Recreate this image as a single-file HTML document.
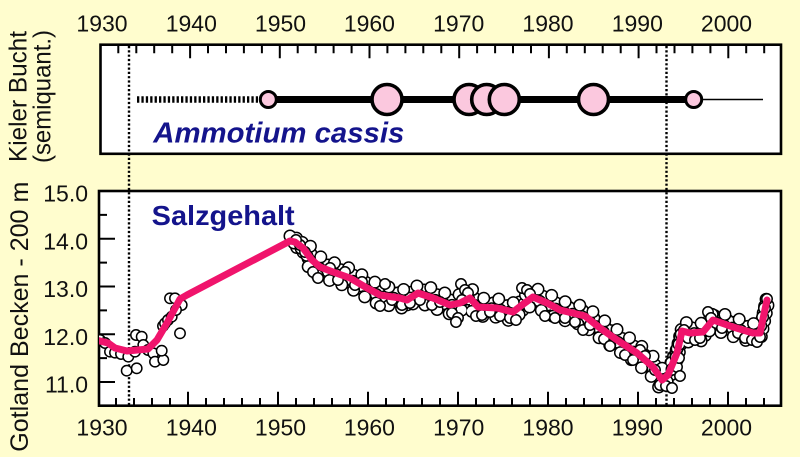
<!DOCTYPE html>
<html><head><meta charset="utf-8"><style>
html,body{margin:0;padding:0;background:#fffdce;}
svg{display:block;}
</style></head><body>
<svg width="800" height="457" viewBox="0 0 800 457" xmlns="http://www.w3.org/2000/svg" font-family="Liberation Sans, Arial, sans-serif">
<defs>
<clipPath id="cp"><rect x="99" y="191" width="682" height="214.7"/></clipPath>
<path id="d" fill="none" d="M290,241 L295,242 303,248 312,260 320,267 333,272 350,278 367,288 380,295 400,298 407,300 418,293 433,298 450,305 460,303 470,298 478,307 497,308 513,312 522,305 533,297 547,303 560,310 585,316 600,328 620,342 637,353 653,367 662,380 668,375 677,353 682,331 690,333 703,332 713,320 733,327 753,333 760,333 767,300"/>
<path id="d2" fill="none" d="M303,248 L312,260 320,267 333,272 350,278 367,288 380,295 400,298 407,300 418,293 433,298 450,305 460,303 470,298 478,307 497,308 513,312 522,305 533,297 547,303 560,310 585,316 600,328 620,342 637,353 653,367 662,380 668,375 677,353 682,331 690,333 703,332 713,320 733,327 753,333 760,333"/>
</defs>
<rect x="0" y="0" width="800" height="457" fill="#fffdce"/>

<rect x="100.5" y="44.7" width="680.5" height="109.1" fill="#fff" stroke="#000" stroke-width="2.6"/>
<rect x="99" y="191" width="682" height="214.7" fill="#fff" stroke="#000" stroke-width="2.6"/>

<g stroke="#000" stroke-width="2" fill="none">
<path d="M118.3,44.7V53.3 M136.3,44.7V53.3 M154.2,44.7V53.3 M172.2,44.7V53.3 M190.1,44.7V58.3 M208,44.7V53.3 M226,44.7V53.3 M243.9,44.7V53.3 M261.9,44.7V53.3 M279.8,44.7V58.3 M297.7,44.7V53.3 M315.7,44.7V53.3 M333.6,44.7V53.3 M351.6,44.7V53.3 M369.5,44.7V58.3 M387.4,44.7V53.3 M405.4,44.7V53.3 M423.3,44.7V53.3 M441.3,44.7V53.3 M459.2,44.7V58.3 M477.1,44.7V53.3 M495.1,44.7V53.3 M513,44.7V53.3 M531,44.7V53.3 M548.9,44.7V58.3 M566.8,44.7V53.3 M584.8,44.7V53.3 M602.7,44.7V53.3 M620.7,44.7V53.3 M638.6,44.7V58.3 M656.5,44.7V53.3 M674.5,44.7V53.3 M692.4,44.7V53.3 M710.4,44.7V53.3 M728.3,44.7V58.3 M746.2,44.7V53.3 M764.2,44.7V53.3"/>
<path d="M116,405.7V398 M134,405.7V398 M152,405.7V398 M170,405.7V398 M188,405.7V391.7 M206,405.7V398 M224,405.7V398 M242,405.7V398 M260,405.7V398 M278,405.7V391.7 M296,405.7V398 M314,405.7V398 M332,405.7V398 M350,405.7V398 M368,405.7V391.7 M386,405.7V398 M404,405.7V398 M422,405.7V398 M440,405.7V398 M458,405.7V391.7 M476,405.7V398 M494,405.7V398 M512,405.7V398 M530,405.7V398 M548,405.7V391.7 M566,405.7V398 M584,405.7V398 M602,405.7V398 M620,405.7V398 M638,405.7V391.7 M656,405.7V398 M674,405.7V398 M692,405.7V398 M710,405.7V398 M728,405.7V391.7 M746,405.7V398 M764,405.7V398"/>
<path d="M99,191H115 M99,238.75H115 M99,286.5H115 M99,334.25H115 M99,382H115 M99,214.9H107 M99,262.6H107 M99,310.4H107 M99,358.1H107"/>
</g>

<g stroke="#000" stroke-width="2.4" stroke-dasharray="2.2 2.1">
<line x1="129" y1="46" x2="129" y2="405"/>
<line x1="666.5" y1="46" x2="666.5" y2="405"/>
</g>

<line x1="137" y1="99.5" x2="258" y2="99.5" stroke="#000" stroke-width="6.5" stroke-dasharray="2.3 2.1"/>
<line x1="268" y1="99.5" x2="694" y2="99.5" stroke="#000" stroke-width="7"/>
<line x1="694" y1="99.5" x2="763" y2="99.5" stroke="#000" stroke-width="1.5"/>
<g fill="#fbc8de" stroke="#000">
<circle cx="268.3" cy="99.5" r="8" stroke-width="3"/>
<circle cx="387" cy="99.5" r="15" stroke-width="3.6"/>
<circle cx="469" cy="99.5" r="15" stroke-width="3.6"/>
<circle cx="486.7" cy="99.5" r="15" stroke-width="3.6"/>
<circle cx="504.3" cy="99.5" r="15" stroke-width="3.6"/>
<circle cx="593.5" cy="99.5" r="15" stroke-width="3.6"/>
<circle cx="693.7" cy="99.5" r="8" stroke-width="3"/>
</g>
<text x="153.3" y="142.7" font-size="29" font-weight="bold" font-style="italic" fill="#14148c" textLength="251" lengthAdjust="spacingAndGlyphs">Ammotium cassis</text>

<g clip-path="url(#cp)">
<g fill="none" stroke-linecap="round" stroke-linejoin="round">
<use href="#d" transform="translate(0,-5)" stroke="#000" stroke-width="13" stroke-dasharray="0 7"/>
<use href="#d" transform="translate(0,-5)" stroke="#fff" stroke-width="10" stroke-dasharray="0 7"/>
<use href="#d" transform="translate(1,5)" stroke="#000" stroke-width="13" stroke-dasharray="0 8" stroke-dashoffset="2"/>
<use href="#d" transform="translate(1,5)" stroke="#fff" stroke-width="10" stroke-dasharray="0 8" stroke-dashoffset="2"/>
<use href="#d" transform="translate(-1,1)" stroke="#000" stroke-width="13" stroke-dasharray="0 9" stroke-dashoffset="4"/>
<use href="#d" transform="translate(-1,1)" stroke="#fff" stroke-width="10" stroke-dasharray="0 9" stroke-dashoffset="4"/>
<use href="#d2" transform="translate(2,-9)" stroke="#000" stroke-width="13" stroke-dasharray="0 15" stroke-dashoffset="6"/>
<use href="#d2" transform="translate(2,-9)" stroke="#fff" stroke-width="10" stroke-dasharray="0 15" stroke-dashoffset="6"/>
<use href="#d2" transform="translate(-2,9)" stroke="#000" stroke-width="13" stroke-dasharray="0 13" stroke-dashoffset="1"/>
<use href="#d2" transform="translate(-2,9)" stroke="#fff" stroke-width="10" stroke-dasharray="0 13" stroke-dashoffset="1"/>
</g>
<g fill="#fff" stroke="#000" stroke-width="1.5">
<circle cx="100" cy="340" r="5.2"/><circle cx="105" cy="343" r="5.2"/><circle cx="110" cy="351.7" r="5.2"/><circle cx="115" cy="352.7" r="5.2"/>
<circle cx="121" cy="354" r="5.2"/><circle cx="126.7" cy="370.7" r="5.2"/><circle cx="128.3" cy="356.7" r="5.2"/><circle cx="135" cy="351.7" r="5.2"/>
<circle cx="136" cy="335" r="5.2"/><circle cx="136.7" cy="368.3" r="5.2"/><circle cx="141.7" cy="336.7" r="5.2"/><circle cx="143.3" cy="345" r="5.2"/>
<circle cx="148" cy="350" r="5.2"/><circle cx="153.3" cy="353.3" r="5.2"/><circle cx="155" cy="361.7" r="5.2"/><circle cx="163.3" cy="360" r="5.2"/>
<circle cx="161.7" cy="350.7" r="5.2"/><circle cx="163" cy="326" r="5.2"/><circle cx="165" cy="323.3" r="5.2"/><circle cx="168" cy="320" r="5.2"/>
<circle cx="171.7" cy="316.7" r="5.2"/><circle cx="170" cy="298.3" r="5.2"/><circle cx="175" cy="298.3" r="5.2"/><circle cx="181.7" cy="305" r="5.2"/>
<circle cx="180" cy="333.3" r="5.2"/><circle cx="176" cy="310" r="5.2"/>
<circle cx="300" cy="245" r="5.2"/><circle cx="296" cy="240" r="5.2"/><circle cx="305" cy="252" r="5.2"/><circle cx="313" cy="272" r="5.2"/>
<circle cx="318" cy="278" r="5.2"/><circle cx="330" cy="268" r="5.2"/><circle cx="338" cy="280" r="5.2"/><circle cx="345" cy="272" r="5.2"/>
<circle cx="355" cy="285" r="5.2"/><circle cx="362" cy="282" r="5.2"/><circle cx="385" cy="284" r="5.2"/><circle cx="380" cy="306" r="5.2"/>
<circle cx="392" cy="300" r="5.2"/><circle cx="402" cy="305" r="5.2"/><circle cx="410" cy="303" r="5.2"/><circle cx="420" cy="300" r="5.2"/>
<circle cx="432" cy="305" r="5.2"/><circle cx="440" cy="302" r="5.2"/><circle cx="452" cy="313" r="5.2"/><circle cx="458" cy="318" r="5.2"/>
<circle cx="456" cy="322" r="5.2"/><circle cx="461" cy="284" r="5.2"/><circle cx="465" cy="290" r="5.2"/><circle cx="468" cy="293" r="5.2"/>
<circle cx="462" cy="300" r="5.2"/><circle cx="476" cy="316" r="5.2"/><circle cx="482" cy="315" r="5.2"/><circle cx="490" cy="312" r="5.2"/>
<circle cx="500" cy="316" r="5.2"/><circle cx="510" cy="318" r="5.2"/><circle cx="516" cy="320" r="5.2"/><circle cx="522" cy="288" r="5.2"/>
<circle cx="527" cy="290" r="5.2"/><circle cx="530" cy="294" r="5.2"/><circle cx="545" cy="316" r="5.2"/><circle cx="555" cy="318" r="5.2"/>
<circle cx="565" cy="318" r="5.2"/><circle cx="575" cy="322" r="5.2"/><circle cx="583" cy="330" r="5.2"/><circle cx="590" cy="325" r="5.2"/>
<circle cx="604" cy="339" r="5.2"/><circle cx="610" cy="346" r="5.2"/><circle cx="625" cy="355" r="5.2"/><circle cx="633" cy="360" r="5.2"/>
<circle cx="640" cy="350" r="5.2"/><circle cx="645" cy="356" r="5.2"/><circle cx="655" cy="370" r="5.2"/><circle cx="660" cy="385" r="5.2"/>
<circle cx="666" cy="386" r="5.2"/><circle cx="672" cy="388" r="5.2"/><circle cx="677" cy="367" r="5.2"/><circle cx="680" cy="376" r="5.2"/>
<circle cx="679" cy="358" r="5.2"/><circle cx="684" cy="330" r="5.2"/><circle cx="688" cy="338" r="5.2"/><circle cx="695" cy="340" r="5.2"/>
<circle cx="700" cy="338" r="5.2"/><circle cx="708" cy="312" r="5.2"/><circle cx="711" cy="318" r="5.2"/><circle cx="716" cy="323" r="5.2"/>
<circle cx="722" cy="328" r="5.2"/><circle cx="738" cy="333" r="5.2"/><circle cx="745" cy="338" r="5.2"/><circle cx="752" cy="340" r="5.2"/>
<circle cx="757" cy="342" r="5.2"/><circle cx="760" cy="337" r="5.2"/><circle cx="767" cy="299" r="5.2"/>
</g>
<polyline fill="none" stroke="#f0146c" stroke-width="7" stroke-linejoin="round" stroke-linecap="round" points="96,340 108,343 115,348 127,351 148,349 157,340 167,323 180,299 187,295 290,241 295,242 303,248 312,260 320,267 333,272 350,278 367,288 380,295 400,298 407,300 418,293 433,298 450,305 460,303 470,298 478,307 497,308 513,312 522,305 533,297 547,303 560,310 585,316 600,328 620,342 637,353 653,367 662,380 668,375 677,353 682,331 690,333 703,332 713,320 733,327 753,333 760,333 767,300"/>
</g>
<text x="151.7" y="225" font-size="28" font-weight="bold" fill="#14148c" textLength="143" lengthAdjust="spacingAndGlyphs">Salzgehalt</text>

<g font-size="23" fill="#111" text-anchor="middle">
<text x="102" y="31.6">1930</text><text x="191.3" y="31.6">1940</text><text x="280.5" y="31.6">1950</text><text x="369.4" y="31.6">1960</text>
<text x="458.7" y="31.6">1970</text><text x="548" y="31.6">1980</text><text x="637.3" y="31.6">1990</text><text x="726.5" y="31.6">2000</text>
<text x="102" y="435.3">1930</text><text x="191.3" y="435.3">1940</text><text x="280.5" y="435.3">1950</text><text x="369.4" y="435.3">1960</text>
<text x="458.7" y="435.3">1970</text><text x="548" y="435.3">1980</text><text x="637.3" y="435.3">1990</text><text x="726.5" y="435.3">2000</text>
</g>
<g font-size="23" fill="#111" text-anchor="end">
<text x="88" y="201.6">15.0</text><text x="88" y="249.3">14.0</text><text x="88" y="297">13.0</text><text x="88" y="344.8">12.0</text><text x="88" y="392.5">11.0</text>
</g>

<g font-size="25" fill="#111" text-anchor="middle">
<text transform="translate(26.7,96.5) rotate(-90)" textLength="131" lengthAdjust="spacingAndGlyphs">Kieler Bucht</text>
<text transform="translate(50.5,96.5) rotate(-90)" textLength="133" lengthAdjust="spacingAndGlyphs">(semiquant.)</text>
<text transform="translate(28,316.7) rotate(-90)" textLength="270" lengthAdjust="spacingAndGlyphs">Gotland Becken - 200 m</text>
</g>
</svg>
</body></html>
